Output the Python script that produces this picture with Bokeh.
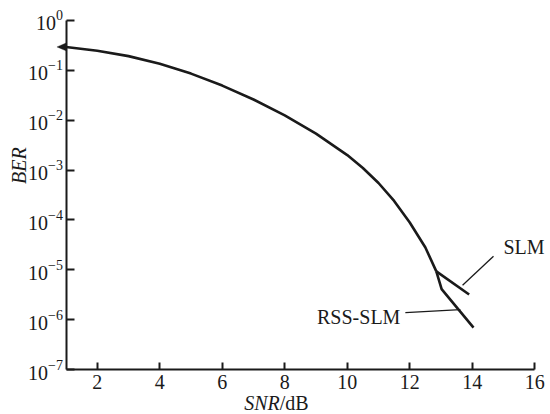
from bokeh.plotting import figure
from bokeh.models import Label, FixedTicker, PolyAnnotation
from bokeh.embed import file_html
from bokeh.resources import INLINE
import math

# ---- data ----
snr_common = [1, 2, 3, 4, 5, 6, 7, 8, 9, 10, 10.5, 11, 11.5, 12, 12.5, 12.85]
ber_common = [0.295, 0.248, 0.193, 0.136, 0.0861, 0.0495, 0.026, 0.01245,
              5.37e-3, 2.0e-3, 1.10e-3, 5.5e-4, 2.4e-4, 8.9e-5, 2.8e-5, 9.3e-6]
snr_slm = [12.85, 13.9]
ber_slm = [9.3e-6, 3.2e-6]
snr_rss = [12.85, 13.02, 14.04]
ber_rss = [9.3e-6, 4.1e-6, 6.9e-7]
x_ticks = [2, 4, 6, 8, 10, 12, 14, 16]
y_ticks = [1e-7, 1e-6, 1e-5, 1e-4, 1e-3, 1e-2, 1e-1, 1e0]
x_bounds = (1, 16)
y_bounds = (1e-7, 1)

FONT = "Liberation Serif"
LC = "#1a1a1a"

# the frame fills the whole canvas; the axes sit at fixed data locations
p = figure(width=550, height=414, x_range=(-1.096, 16.504),
           y_range=(10 ** -7.9025, 10 ** 0.401),
           y_axis_type="log", output_backend="svg", toolbar_location=None,
           min_border=0)
p.outline_line_color = None
p.grid.visible = False
p.background_fill_color = "white"
p.border_fill_color = "white"

p.xaxis.fixed_location = y_bounds[0]
p.yaxis.fixed_location = x_bounds[0]
p.xaxis.bounds = x_bounds
p.yaxis.bounds = y_bounds

for ax in (p.xaxis[0], p.yaxis[0]):
    ax.axis_line_width = 2
    ax.axis_line_color = LC
    ax.major_tick_line_width = 2
    ax.major_tick_line_color = LC
    ax.major_tick_out = 0
    ax.minor_tick_line_color = None
    ax.major_label_text_font = FONT
    ax.major_label_text_font_size = "20px"
    ax.major_label_text_color = LC

p.xaxis.ticker = FixedTicker(ticks=x_ticks)
p.yaxis.ticker = FixedTicker(ticks=y_ticks)
p.xaxis.major_tick_in = 7
p.yaxis.major_tick_in = 8
p.xaxis.major_label_standoff = 5
p.yaxis.major_label_standoff = 3

p.line(snr_common, ber_common, line_width=2.6, line_color=LC, line_join="round")
p.line(snr_slm, ber_slm, line_width=2.6, line_color=LC)
p.line(snr_rss, ber_rss, line_width=2.6, line_color=LC, line_join="round")

# arrow head at the start of the curve (left of the y axis)
x0, y0 = snr_common[0], ber_common[0]
p.add_layout(PolyAnnotation(xs=[x0, x0, x0 - 0.29], ys=[y0 * 1.2, y0 / 1.2, y0],
                            fill_color=LC, fill_alpha=1, line_color=LC,
                            line_width=1))

# leader lines
p.segment(x0=[13.69, 11.86], y0=[10 ** -5.31, 10 ** -5.86],
          x1=[14.68, 13.62], y1=[10 ** -4.73, 10 ** -5.80],
          line_color=LC, line_width=1.3)

p.add_layout(Label(x=15.0, y=10 ** -4.55, text="SLM", text_font=FONT,
                   text_font_size="20px", text_align="left",
                   text_baseline="middle", text_color=LC))
p.add_layout(Label(x=11.70, y=10 ** -5.94, text="RSS-SLM", text_font=FONT,
                   text_font_size="20px", text_align="right",
                   text_baseline="middle", text_color=LC))

# axis titles
p.add_layout(Label(x=7.84, y=10 ** -7.68, text="SNR", text_font=FONT,
                   text_font_size="20px", text_font_style="italic",
                   text_align="right", text_baseline="middle", text_color=LC))
p.add_layout(Label(x=7.84, y=10 ** -7.68, text="/dB", text_font=FONT,
                   text_font_size="20px", text_align="left",
                   text_baseline="middle", text_color=LC))
p.add_layout(Label(x=-0.49, y=10 ** -2.91, text="BER", text_font=FONT,
                   text_font_size="20px", text_font_style="italic",
                   angle=math.pi / 2, text_align="center",
                   text_baseline="middle", text_color=LC))

open("out.html", "w").write(file_html(p, INLINE))
